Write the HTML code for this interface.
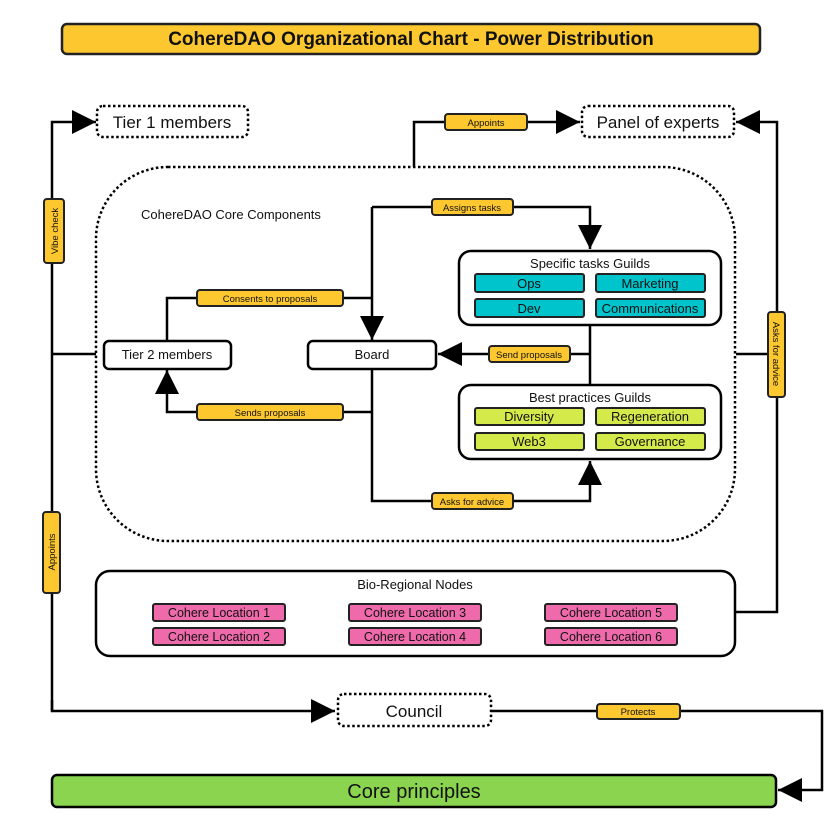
<!DOCTYPE html>
<html><head><meta charset="utf-8"><style>body{margin:0;background:#fff}svg{display:block}text{font-family:"Liberation Sans",sans-serif;fill:#111}</style></head><body>
<svg width="831" height="823" viewBox="0 0 831 823" xmlns="http://www.w3.org/2000/svg">
<defs>
<marker id="b" viewBox="0 0 10 10" refX="10" refY="5" markerWidth="24" markerHeight="24" orient="auto" markerUnits="userSpaceOnUse"><path d="M0,0L10,5L0,10z" fill="#000"/></marker></defs>
<g fill="none" stroke="#000" stroke-width="2.5">
<rect x="62" y="24" width="698" height="30" rx="5" fill="#FDC72F" stroke="#222"/>
<path d="M52,711V122H96" marker-end="url(#b)"/>
<path d="M52,700V711H335" marker-end="url(#b)"/>
<path d="M52,354H96"/>
<path d="M491,711H822V790H778" marker-end="url(#b)"/>
<path d="M414,167V122H580" marker-end="url(#b)"/>
<path d="M735,612H777V122H736" marker-end="url(#b)"/>
<path d="M736,354H777"/>
<path d="M372,207H590V249" marker-end="url(#b)"/>
<path d="M372,207V340" marker-end="url(#b)"/>
<path d="M167,341V298H372"/>
<path d="M372,412H167V370" marker-end="url(#b)"/>
<path d="M372,369V501H590V461" marker-end="url(#b)"/>
<path d="M590,325V385M590,354H438" marker-end="url(#b)"/>
<rect x="97" y="106" width="151" height="31" rx="6" fill="#fff" stroke-dasharray="2.5 2.5"/>
<rect x="582" y="106" width="152" height="31" rx="6" fill="#fff" stroke-dasharray="2.5 2.5"/>
<rect x="338" y="694" width="153" height="32" rx="6" fill="#fff" stroke-dasharray="2.5 2.5"/>
<rect x="96" y="167" width="639" height="374" rx="72" stroke-dasharray="2.5 2.5"/>
<rect x="104" y="341" width="127" height="28" rx="5" fill="#fff"/>
<rect x="308" y="341" width="128" height="28" rx="5" fill="#fff"/>
<rect x="459" y="251" width="262" height="74" rx="12" fill="#fff"/>
<rect x="459" y="385" width="262" height="74" rx="12" fill="#fff"/>
<rect x="96" y="571" width="639" height="85" rx="14" fill="#fff"/>
<rect x="52" y="775" width="724" height="32" rx="5" fill="#8BD450"/>
</g>
<g stroke="#222" stroke-width="2">
<rect x="475" y="274" width="109" height="18" rx="2" fill="#00C4CC"/>
<rect x="596" y="274" width="109" height="18" rx="2" fill="#00C4CC"/>
<rect x="475" y="299" width="109" height="18" rx="2" fill="#00C4CC"/>
<rect x="596" y="299" width="109" height="18" rx="2" fill="#00C4CC"/>
<rect x="475" y="408" width="109" height="17" rx="2" fill="#D4EA4B"/>
<rect x="596" y="408" width="109" height="17" rx="2" fill="#D4EA4B"/>
<rect x="475" y="433" width="109" height="17" rx="2" fill="#D4EA4B"/>
<rect x="596" y="433" width="109" height="17" rx="2" fill="#D4EA4B"/>
<g fill="#EE6AAA">
<rect x="153" y="604" width="132" height="17" rx="2"/><rect x="153" y="628" width="132" height="17" rx="2"/>
<rect x="349" y="604" width="132" height="17" rx="2"/><rect x="349" y="628" width="132" height="17" rx="2"/>
<rect x="545" y="604" width="132" height="17" rx="2"/><rect x="545" y="628" width="132" height="17" rx="2"/>
</g>
<g fill="#FDC72F">
<rect x="445" y="114" width="82" height="16" rx="3"/>
<rect x="432" y="199" width="81" height="16" rx="3"/>
<rect x="197" y="290" width="146" height="16" rx="3"/>
<rect x="197" y="404" width="146" height="16" rx="3"/>
<rect x="489" y="346" width="81" height="16" rx="3"/>
<rect x="432" y="493" width="81" height="16" rx="3"/>
<rect x="597" y="704" width="83" height="15" rx="3"/>
<rect x="44" y="199" width="20" height="64" rx="3"/>
<rect x="43" y="512" width="17" height="81" rx="3"/>
<rect x="768" y="312" width="17" height="85" rx="3"/>
</g>
</g>
<g text-anchor="middle">
<text x="411" y="45" font-size="19" font-weight="bold">CohereDAO Organizational Chart - Power Distribution</text>
<text x="172" y="128" font-size="17">Tier 1 members</text>
<text x="658" y="128" font-size="17">Panel of experts</text>
<text x="414" y="717" font-size="17">Council</text>
<text x="414" y="798" font-size="20">Core principles</text>
<text x="167" y="359" font-size="13">Tier 2 members</text>
<text x="372" y="359" font-size="13">Board</text>
<text x="590" y="268" font-size="13">Specific tasks Guilds</text>
<text x="590" y="402" font-size="13">Best practices Guilds</text>
<text x="415" y="589" font-size="13">Bio-Regional Nodes</text>
<g font-size="13"><text x="529" y="288">Ops</text><text x="650" y="288">Marketing</text><text x="529" y="313">Dev</text><text x="650" y="313">Communications</text>
<text x="529" y="421">Diversity</text><text x="650" y="421">Regeneration</text><text x="529" y="446">Web3</text><text x="650" y="446">Governance</text></g>
<g font-size="12.5"><text x="219" y="617">Cohere Location 1</text><text x="219" y="641">Cohere Location 2</text><text x="415" y="617">Cohere Location 3</text><text x="415" y="641">Cohere Location 4</text><text x="611" y="617">Cohere Location 5</text><text x="611" y="641">Cohere Location 6</text></g>
<g font-size="9.5"><text x="486" y="126">Appoints</text><text x="472" y="211">Assigns tasks</text><text x="270" y="302">Consents to proposals</text><text x="270" y="416">Sends proposals</text><text x="529" y="358">Send proposals</text><text x="472" y="505">Asks for advice</text><text x="638" y="715">Protects</text></g>
<text transform="translate(58,231) rotate(-90)" font-size="9.5">Vibe check</text>
<text transform="translate(55,552) rotate(-90)" font-size="9.5">Appoints</text>
<text transform="translate(773,354) rotate(90)" font-size="9.5">Asks for advice</text>
</g>
<text x="141" y="219" font-size="13">CohereDAO Core Components</text>
</svg>
</body></html>
